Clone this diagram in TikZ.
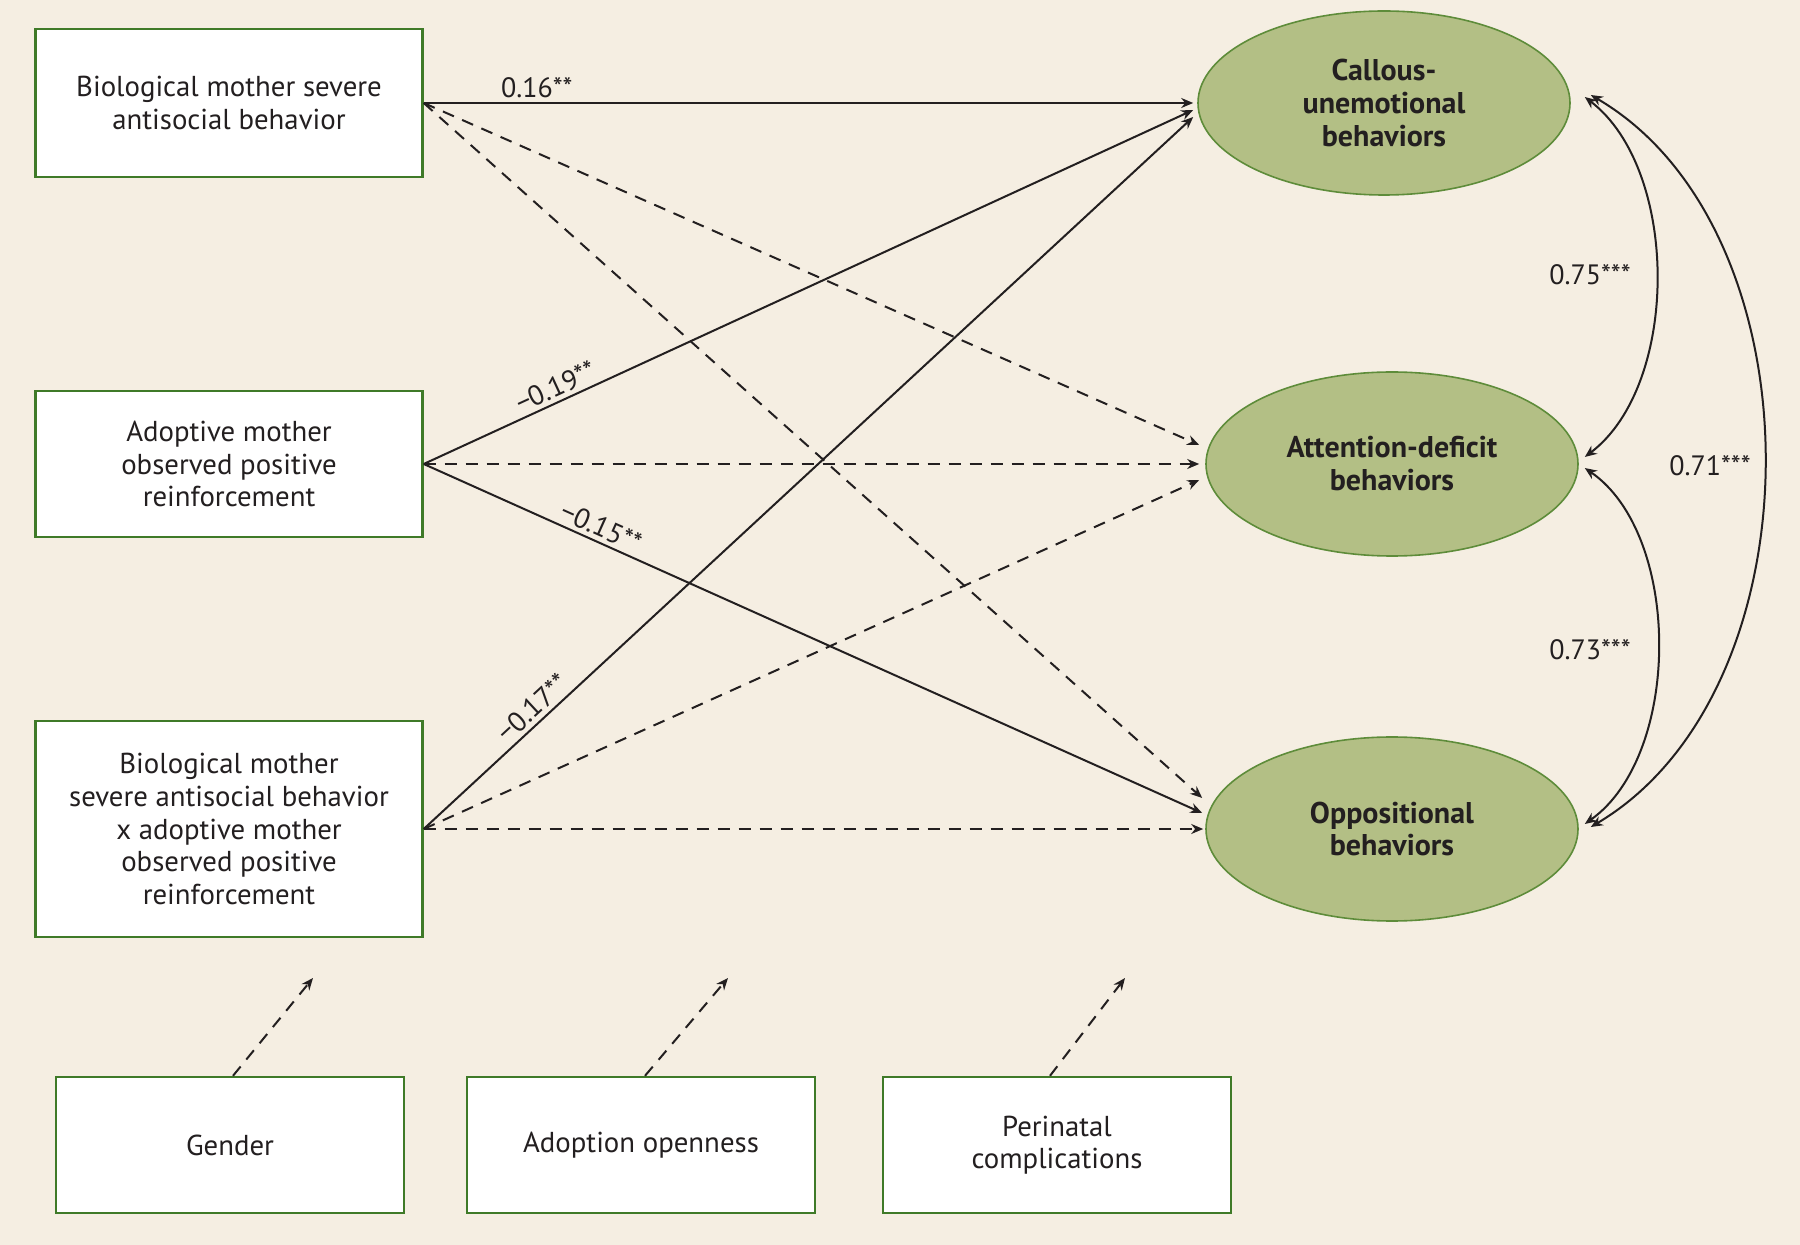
\documentclass[tikz,border=0pt]{standalone}
\usepackage{fontspec}
\setmainfont{PT Sans}
\usetikzlibrary{arrows.meta,calc,shapes.geometric}
\definecolor{bgc}{HTML}{F5EEE2}
\definecolor{boxc}{HTML}{3F7A28}
\definecolor{ellf}{HTML}{B3BF85}
\definecolor{elld}{HTML}{5E8C3A}
\definecolor{txt}{HTML}{231F20}
\tikzset{
  varbox/.style={draw=boxc, line width=1.2pt, fill=white, align=center, text=txt,
    font=\fontsize{14.4}{16.3}\selectfont, minimum width=193.5pt, inner sep=2pt},
  ctrlbox/.style={draw=boxc, line width=1.2pt, fill=white, align=center, text=txt,
    font=\fontsize{14.4}{16.3}\selectfont, minimum width=174pt, minimum height=68pt, inner sep=2pt},
  outc/.style={ellipse, draw=elld, line width=0.8pt, fill=ellf, align=center, text=txt,
    font=\bfseries\fontsize{15}{16.5}\selectfont, minimum width=186pt, minimum height=92pt, inner sep=0pt},
  sig/.style={line width=1pt, draw=txt, -{Stealth[length=6pt,width=5pt]}},
  nsig/.style={sig, dash pattern=on 6pt off 4.5pt},
  cov/.style={line width=1pt, draw=txt, {Stealth[length=6pt,width=5pt]}-{Stealth[length=6pt,width=5pt]}},
  coef/.style={font=\fontsize{14}{16}\selectfont, text=txt, inner sep=2pt}
}
\begin{document}
\begin{tikzpicture}[x=0.5pt,y=-0.5pt]
\useasboundingbox[fill=bgc] (0,0) rectangle (1800,1245);

\node[varbox, minimum height=74pt] (b1) at (229,103) {Biological mother severe\\antisocial behavior};
\node[varbox, minimum height=73pt] (b2) at (229,464) {Adoptive mother\\observed positive\\reinforcement};
\node[varbox, minimum height=108pt] (b3) at (229,829) {Biological mother\\severe antisocial behavior\\x adoptive mother\\observed positive\\reinforcement};

\node[outc] (cu) at (1384,103) {Callous-\\unemotional\\behaviors};
\node[outc] (ad) at (1392,464) {Attention-deficit\\behaviors};
\node[outc] (op) at (1392,829) {Oppositional\\behaviors};

\node[ctrlbox] (g) at (230,1145) {Gender};
\node[ctrlbox] (ao) at (641,1145) {Adoption openness};
\node[ctrlbox] (pc) at (1057,1145) {Perinatal\\complications};

% end points at the outcomes
\coordinate (cu1) at ($(cu.west)+(-4,0)$);
\coordinate (cu2) at ($(cu.west)+(-4,7)$);
\coordinate (cu3) at ($(cu.west)+(-4,14)$);
\coordinate (ad1) at ($(ad.west)+(-6,-19)$);
\coordinate (ad2) at ($(ad.west)+(-6,0)$);
\coordinate (ad3) at ($(ad.west)+(-6,16)$);
\coordinate (op1) at ($(op.west)+(-3,-31)$);
\coordinate (op2) at ($(op.west)+(-3,-16)$);
\coordinate (op3) at ($(op.west)+(-2,0)$);

% paths from predictors
\draw[sig] (b1.east) -- node[coef, above, pos=0.147] {0.16**} (cu1);
\draw[nsig] (b1.east) -- (ad1);
\draw[nsig] (b1.east) -- (op1);

\draw[sig] (b2.east) -- node[coef, sloped, above, pos=0.18] {−0.19**} (cu2);
\draw[nsig] (b2.east) -- (ad2);
\draw[sig] (b2.east) -- node[coef, sloped, above, pos=0.22] {−0.15**} (op2);

\draw[sig] (b3.east) -- node[coef, sloped, above, pos=0.155] {−0.17**} (cu3);
\draw[nsig] (b3.east) -- (ad3);
\draw[nsig] (b3.east) -- (op3);

% covariances
\coordinate (cuA) at ($(cu.east)+(14,-6)$);
\coordinate (adA) at ($(ad.east)+(6,-7)$);
\coordinate (adB) at ($(ad.east)+(6,4)$);
\coordinate (opB) at ($(op.east)+(6,-5)$);
\coordinate (cuB) at ($(cu.east)+(20,-8)$);
\coordinate (opC) at ($(op.east)+(12,-2)$);
\draw[cov] (cuA) .. controls (1680,170) and (1680,385) .. (adA);
\draw[cov] (adB) .. controls (1682,535) and (1682,755) .. (opB);
\draw[cov] (cuB) .. controls (1822,230) and (1822,690) .. (opC);
\node[coef] (l75) at (1590,275) {0.75***};
\node[coef] (l73) at (1590,650) {0.73***};
\node[coef] (l71) at (1710,466) {0.71***};

% control variables
\coordinate (gE) at (313,978);
\coordinate (aoE) at (728,978);
\coordinate (pcE) at (1125,978);
\draw[nsig] ($(g.north)+(3,0)$) -- (gE);
\draw[nsig] ($(ao.north)+(4,0)$) -- (aoE);
\draw[nsig] ($(pc.north)+(-7,0)$) -- (pcE);
\end{tikzpicture}
\end{document}
